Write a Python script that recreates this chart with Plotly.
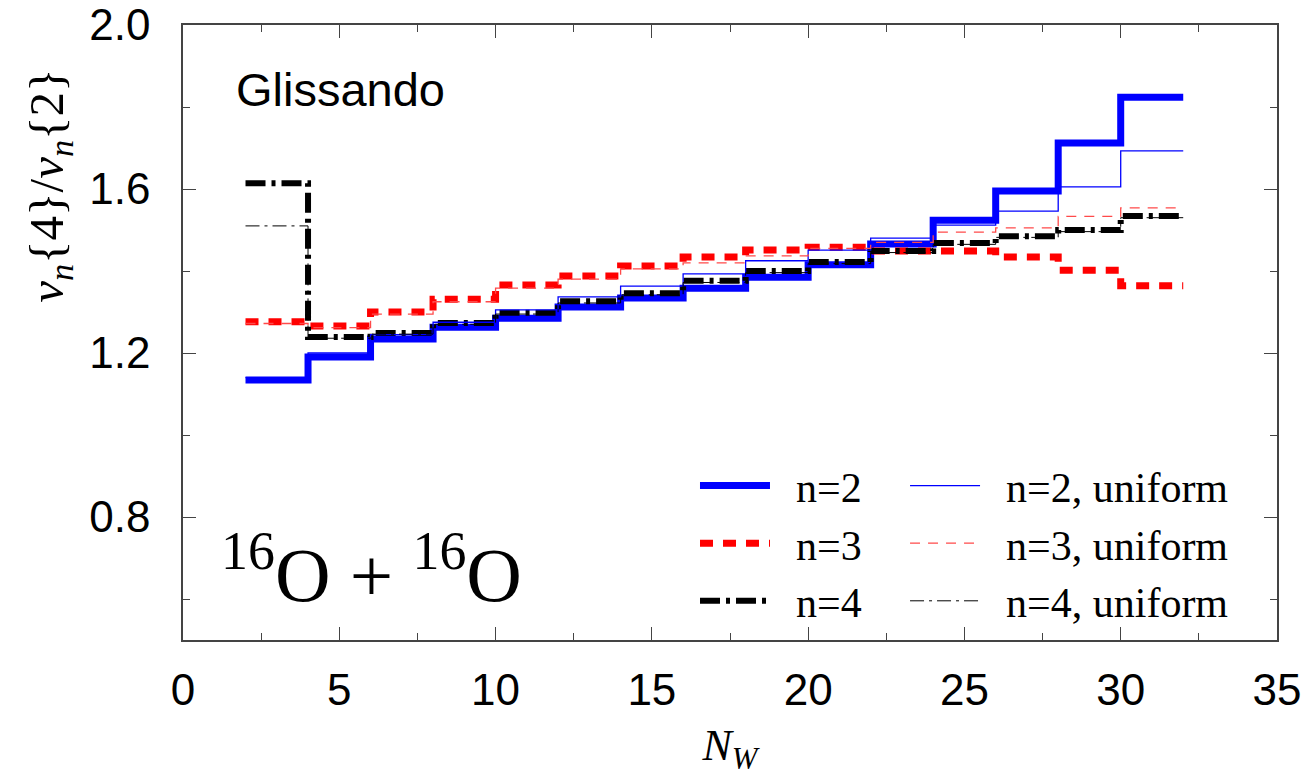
import plotly.graph_objects as go

# Bin edges in N_W (bins of width 2, from 2 to 32)
nw_edges = [2, 4, 6, 8, 10, 12, 14, 16, 18, 20, 22, 24, 26, 28, 30, 32]

# v_n{4}/v_n{2} per bin (15 bins)
n2 = [1.134, 1.190, 1.234, 1.263, 1.285, 1.312, 1.334, 1.358, 1.385, 1.415, 1.466, 1.524, 1.595, 1.712, 1.824]
n2_uniform = [1.140, 1.200, 1.245, 1.275, 1.305, 1.337, 1.363, 1.393, 1.425, 1.451, 1.480, 1.512, 1.546, 1.605, 1.693]
n3 = [1.276, 1.266, 1.300, 1.331, 1.366, 1.388, 1.412, 1.434, 1.451, 1.458, 1.449, 1.449, 1.434, 1.402, 1.364]
n3_uniform = [1.272, 1.262, 1.295, 1.325, 1.358, 1.380, 1.405, 1.420, 1.437, 1.455, 1.470, 1.495, 1.505, 1.533, 1.554]
n4 = [1.614, 1.239, 1.249, 1.273, 1.298, 1.326, 1.346, 1.376, 1.400, 1.422, 1.449, 1.468, 1.485, 1.500, 1.534]
n4_uniform = [1.510, 1.236, 1.246, 1.270, 1.295, 1.322, 1.342, 1.372, 1.396, 1.418, 1.445, 1.465, 1.482, 1.496, 1.530]

x_ticks = [0, 5, 10, 15, 20, 25, 30, 35]
y_ticks = [0.8, 1.2, 1.6, 2.0]

NB = "\u00a0\u00a0"
series = [
    ("n=2", n2, dict(color="#0000ff", width=7, dash="solid"), "legend"),
    ("n=3", n3, dict(color="#ff0000", width=7, dash="13px,10px"), "legend"),
    ("n=4", n4, dict(color="#000000", width=6, dash="20px,6px,4px,6px"), "legend"),
    ("n=2, uniform", n2_uniform, dict(color="#0000ff", width=1.3, dash="solid"), "legend2"),
    ("n=3, uniform", n3_uniform, dict(color="#ff4a4a", width=1.3, dash="10px,8px"), "legend2"),
    ("n=4, uniform", n4_uniform, dict(color="#000000", width=1.0, dash="14px,5px,3px,5px"), "legend2"),
]

fig = go.Figure()
for name, vals, line, leg in series:
    fig.add_trace(go.Scatter(
        x=nw_edges, y=vals + [vals[-1]], mode="lines", name=NB + name,
        line=dict(shape="hv", **line), legend=leg, legendgroup=name,
    ))

axis_common = dict(
    showline=True, linecolor="#444444", linewidth=1.5, mirror="ticks",
    ticks="inside", ticklen=13, tickwidth=1.3, tickcolor="#444444",
    showgrid=False, zeroline=False, automargin=False,
    tickfont=dict(family="Liberation Sans, Arial, sans-serif", size=44, color="black"),
)

legend_font = dict(family="Liberation Serif, serif", size=42, color="black")

fig.update_layout(
    width=1308, height=776,
    margin=dict(l=183, r=31, t=25, b=136),
    paper_bgcolor="white", plot_bgcolor="white",
    xaxis=dict(range=[0, 35], tickvals=x_ticks, ticklabelstandoff=10,
               minor=dict(dtick=2.5, tick0=0, ticks="inside", ticklen=7, tickcolor="#444444"),
               title=dict(text="<i>N</i><sub><i>W</i></sub>",
                          font=dict(family="Liberation Serif, serif", size=44, color="black"),
                          standoff=18),
               **axis_common),
    yaxis=dict(range=[0.5, 2.0], tickvals=y_ticks, tickformat=".1f", ticklabelstandoff=22,
               minor=dict(dtick=0.2, tick0=0, ticks="inside", ticklen=7, tickcolor="#444444"),
               **axis_common),
    legend=dict(x=0.468, y=0.306, xanchor="left", yanchor="top", font=legend_font,
                bgcolor="rgba(0,0,0,0)", itemwidth=70, tracegroupgap=0, traceorder="grouped"),
    legend2=dict(x=0.66, y=0.306, xanchor="left", yanchor="top", font=legend_font,
                 bgcolor="rgba(0,0,0,0)", itemwidth=70, tracegroupgap=0, traceorder="grouped"),
    annotations=[
        dict(text="Glissando", xref="paper", yref="paper", x=0.047, y=0.895,
             xanchor="left", yanchor="middle", showarrow=False,
             font=dict(family="Liberation Sans, Arial, sans-serif", size=47, color="black")),
        dict(text="<sup>16</sup>O + <sup>16</sup>O", xref="paper", yref="paper", x=0.033, y=0.115,
             xanchor="left", yanchor="middle", showarrow=False,
             font=dict(family="Liberation Serif, serif", size=77, color="black")),
        dict(text="<i>v</i><sub><i>n</i></sub>{4}/<i>v</i><sub><i>n</i></sub>{2}",
             xref="paper", yref="paper", x=-0.1216, y=0.74, textangle=-90,
             xanchor="center", yanchor="middle", showarrow=False,
             font=dict(family="Liberation Serif, serif", size=49, color="black")),
    ],
)

fig.write_html("out.html")
